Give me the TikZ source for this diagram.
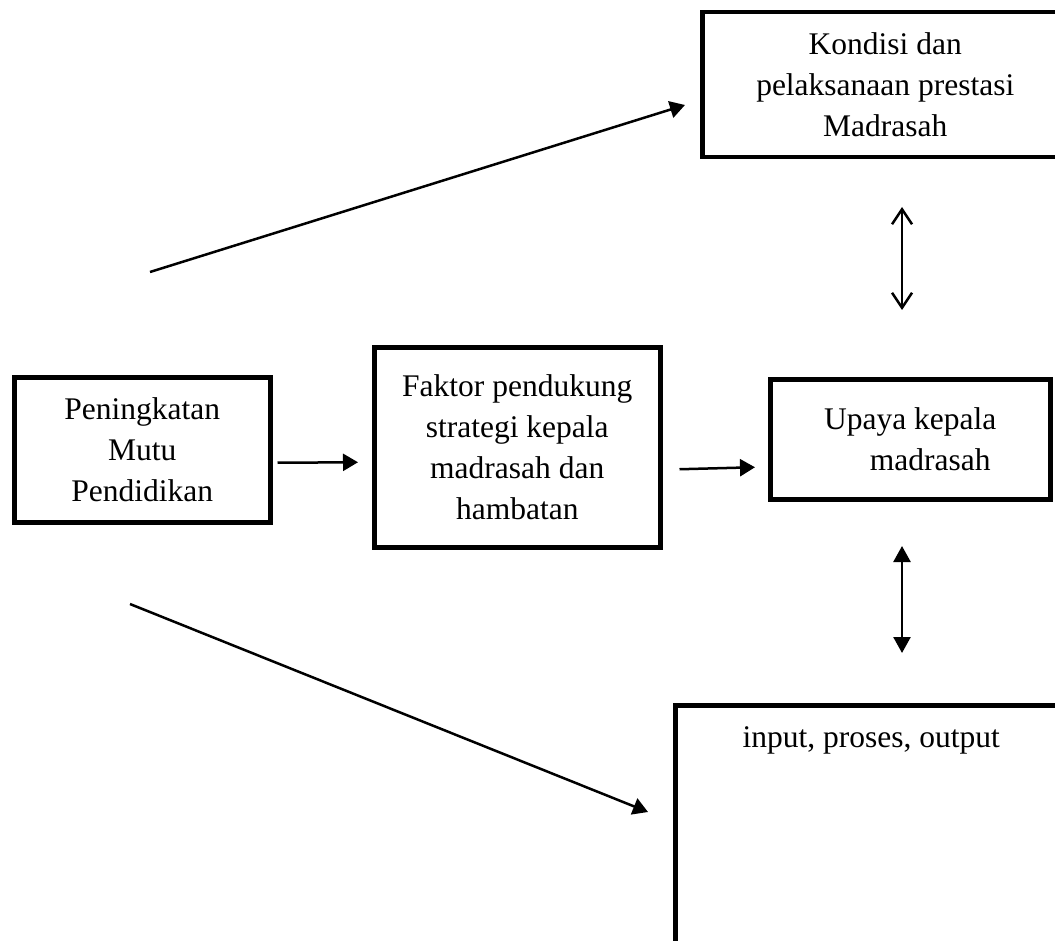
\documentclass[tikz,border=0pt]{standalone}
\usepackage{fontspec}
\setmainfont{Liberation Serif}
\usetikzlibrary{arrows.meta}

\begin{document}
\begin{tikzpicture}[
  x=1pt, y=-1pt,
  box/.style={draw, line width=4.5pt, align=center, anchor=north west, inner sep=0pt, font=\fontsize{31.5}{41}\selectfont},
  arrow/.style={-{Triangle[length=15pt,width=17pt]}, line width=2.5pt},
  twoway/.style={{Triangle[length=16pt,width=17pt]}-{Triangle[length=16pt,width=17pt]}, line width=2.5pt},
  openway/.style={{Straight Barb[length=15pt,width=20pt]}-{Straight Barb[length=15pt,width=20pt]}, line width=2.5pt}
]
\useasboundingbox (0,0) rectangle (1055,941);

\node[box, minimum width=256pt, minimum height=145pt] (mutu) at (12,375) {Peningkatan\\Mutu\\Pendidikan};
\node[box, minimum width=286pt, minimum height=200pt] (faktor) at (372,345) {Faktor pendukung\\strategi kepala\\madrasah dan\\hambatan};
\node[box, minimum width=280pt, minimum height=120pt] (upaya) at (768,377) {Upaya kepala\\\hspace*{40pt}madrasah};
\node[box, minimum width=366pt, minimum height=145pt] (kondisi) at (700,10) {Kondisi dan\\pelaksanaan prestasi\\Madrasah};
\node[box, minimum width=392pt, text height=30pt, text depth=200pt, inner ysep=12pt] (ipo) at (673,703) {input, proses, output};

% free ends
\coordinate (upstart) at (150,272);
\coordinate (downstart) at (130,604);
\coordinate (kondisi-end) at (685,105);
\coordinate (ipo-end) at (648,812);
\coordinate (k1) at (902,207);
\coordinate (k2) at (902,310);
\coordinate (u1) at (902,546);
\coordinate (u2) at (902,653);

\draw[arrow] ([shift={(5,13)}]mutu.east) -- ([shift={(-14,15)}]faktor.west);
\draw[arrow] ([shift={(17,22)}]faktor.east) -- ([shift={(-13,28)}]upaya.west);
\draw[arrow] (upstart) -- (kondisi-end);
\draw[arrow] (downstart) -- (ipo-end);
\draw[openway] (k1) -- (k2);
\draw[twoway] (u1) -- (u2);
\end{tikzpicture}
\end{document}
